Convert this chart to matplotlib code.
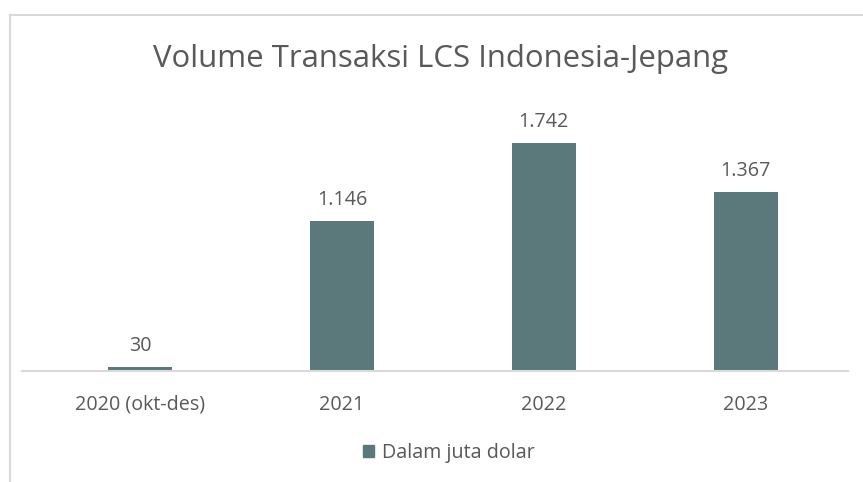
import matplotlib.pyplot as plt
from matplotlib.patches import Rectangle
from matplotlib.lines import Line2D

categories = ["2020 (okt-des)", "2021", "2022", "2023"]
values = [30, 1146, 1742, 1367]
value_labels = ["30", "1.146", "1.742", "1.367"]
series_name = "Dalam juta dolar"

bar_color = "#5b787b"
text_color = "#595959"

fig = plt.figure(figsize=(8.63, 4.82), dpi=100)
ax = fig.add_axes([0.0255, 0.2303, 0.957, 0.5436])

x = range(len(categories))
bars = ax.bar(x, values, width=0.32, color=bar_color, label=series_name)

for xi, v, lab in zip(x, values, value_labels):
    ax.annotate(lab, (xi, v), xytext=(0, 8), textcoords="offset points",
                ha="center", va="bottom", fontsize=14.2, color=text_color,
                family="Open Sans")

ax.set_xlim(-0.584, 3.505)
ax.set_ylim(0, 2000)
ax.set_xticks(list(x))
ax.set_xticklabels(categories, fontsize=14.2, color=text_color, family="Open Sans")
ax.tick_params(axis="x", length=0, pad=17)
ax.set_yticks([])
for s in ["top", "right", "left"]:
    ax.spines[s].set_visible(False)
ax.spines["bottom"].set_color("#d9d9d9")
ax.spines["bottom"].set_linewidth(1.5)

fig.text(0.51, 0.877, "Volume Transaksi LCS Indonesia-Jepang", ha="center",
         va="center", fontsize=22.4, color=text_color, family="Open Sans")

leg = fig.legend(handles=[Rectangle((0, 0), 1, 1, color=bar_color)],
                 labels=[series_name], loc="center", bbox_to_anchor=(0.52, 0.06),
                 frameon=False, handlelength=0.6, handleheight=0.6,
                 handletextpad=0.4, prop={"family": "Open Sans", "size": 14.2})
for t in leg.get_texts():
    t.set_color(text_color)

# chart area border (cropped at right and bottom)
border_color = "#d9d9d9"
fig.add_artist(Line2D([10 / 863, 1.0], [1 - 15 / 482] * 2, transform=fig.transFigure,
                      color=border_color, lw=1.5))
fig.add_artist(Line2D([10 / 863] * 2, [0.0, 1 - 15 / 482], transform=fig.transFigure,
                      color=border_color, lw=1.5))

fig.savefig("out.png", dpi=100)
